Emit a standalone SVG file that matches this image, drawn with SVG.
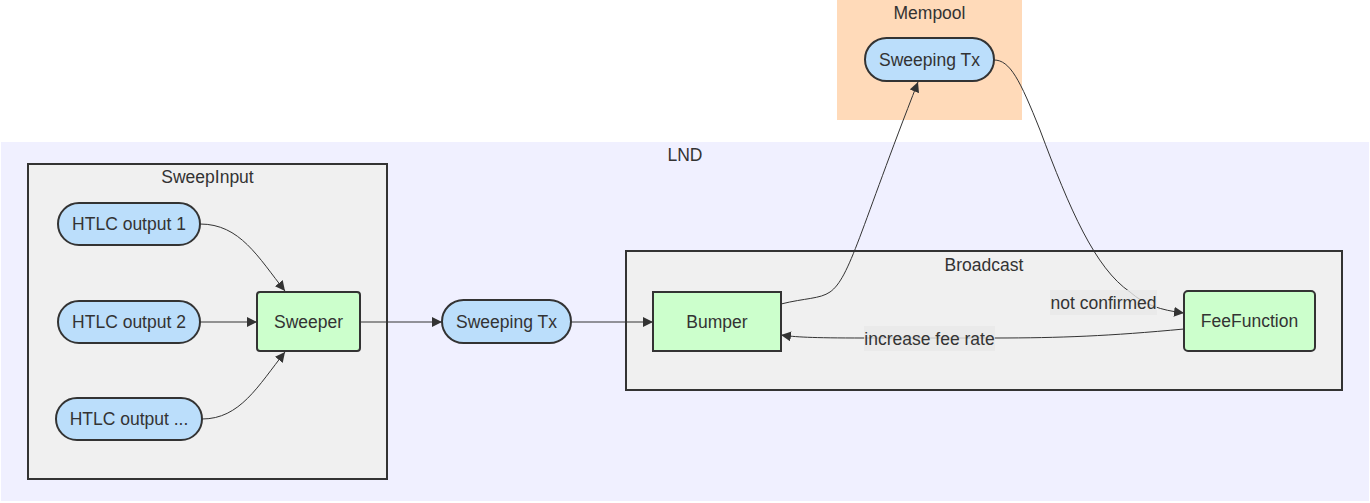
<svg xmlns="http://www.w3.org/2000/svg" width="1370" height="503" viewBox="0 0 1370 503">
<defs>
<style>
text{font-family:"Liberation Sans",Arial,sans-serif;font-size:17.5px;fill:#333;text-anchor:middle;dominant-baseline:central}
.cl{stroke:#333;stroke-width:2}
.stad{fill:#bbdefb;stroke:#333;stroke-width:2}
.box{fill:#ccffcc;stroke:#333;stroke-width:2}
.e{fill:none;stroke:#333;stroke-width:1}
.lbl{fill:#e8e8e8;opacity:0.8}
</style>
<marker id="ah" viewBox="0 0 10 10" refX="10" refY="5" markerWidth="10" markerHeight="10" markerUnits="userSpaceOnUse" orient="auto">
<path d="M0,0 L10,5 L0,10 z" fill="#333"/>
</marker>
</defs>
<g id="LND">
<rect x="1" y="142" width="1368" height="359" fill="#f0f0ff"/>
<text x="685" y="155">LND</text>
</g>
<g id="Mempool">
<rect x="837" y="0" width="185" height="120" fill="#ffdab9"/>
<text x="929.5" y="13">Mempool</text>
</g>
<g id="SweepInput">
<rect x="28" y="164" width="359" height="315" fill="#f0f0f0" class="cl"/>
<text x="207.5" y="177">SweepInput</text>
</g>
<g id="Broadcast">
<rect x="626" y="251" width="716" height="139" fill="#f0f0f0" class="cl"/>
<text x="984" y="265">Broadcast</text>
</g>
<g id="edges">
<path class="e" d="M200,224 C240,224 258,257 285,291" marker-end="url(#ah)"/>
<path class="e" d="M200,322 L257,322" marker-end="url(#ah)"/>
<path class="e" d="M202,419 C240,419 258,386 285,352" marker-end="url(#ah)"/>
<path class="e" d="M360,322 L442,322" marker-end="url(#ah)"/>
<path class="e" d="M571,322 L653,322" marker-end="url(#ah)"/>
<path class="e" d="M781,304 C805,298 820,299 830,292 C850,278 860,230 918,82" marker-end="url(#ah)"/>
<path class="e" d="M994,60 C1010,60 1020,80 1040,130 C1070,210 1095,268 1130,292 C1145,305 1160,310 1184,313" marker-end="url(#ah)"/>
<path class="e" d="M1184,329 C1110,336 1060,338 995,338 L864,338 C810,338 795,337 781,335" marker-end="url(#ah)"/>
<rect class="lbl" x="1050" y="290" width="107" height="25"/>
<text x="1103.5" y="302.5">not confirmed</text>
<rect class="lbl" x="864" y="326" width="131" height="25"/>
<text x="929.5" y="338.5">increase fee rate</text>
</g>
<g id="htlc1">
<rect class="stad" x="58" y="203" width="142" height="42" rx="21"/>
<text x="129" y="224">HTLC output 1</text>
</g>
<g id="htlc2">
<rect class="stad" x="58" y="301" width="142" height="42" rx="21"/>
<text x="129" y="322">HTLC output 2</text>
</g>
<g id="htlc3">
<rect class="stad" x="56" y="398" width="146" height="42" rx="21"/>
<text x="129" y="419">HTLC output ...</text>
</g>
<g id="Sweeper">
<rect class="box" x="257" y="292" width="103" height="59" rx="3"/>
<text x="308.5" y="322">Sweeper</text>
</g>
<g id="SweepingTx1">
<rect class="stad" x="442" y="300" width="129" height="43" rx="21.5"/>
<text x="506.5" y="322">Sweeping Tx</text>
</g>
<g id="Bumper">
<rect class="box" x="653" y="292" width="128" height="59"/>
<text x="717" y="322">Bumper</text>
</g>
<g id="FeeFunction">
<rect class="box" x="1184" y="291" width="131" height="60" rx="4"/>
<text x="1249.5" y="321">FeeFunction</text>
</g>
<g id="SweepingTx2">
<rect class="stad" x="865" y="38" width="129" height="43" rx="21.5"/>
<text x="929.5" y="60">Sweeping Tx</text>
</g>
</svg>
